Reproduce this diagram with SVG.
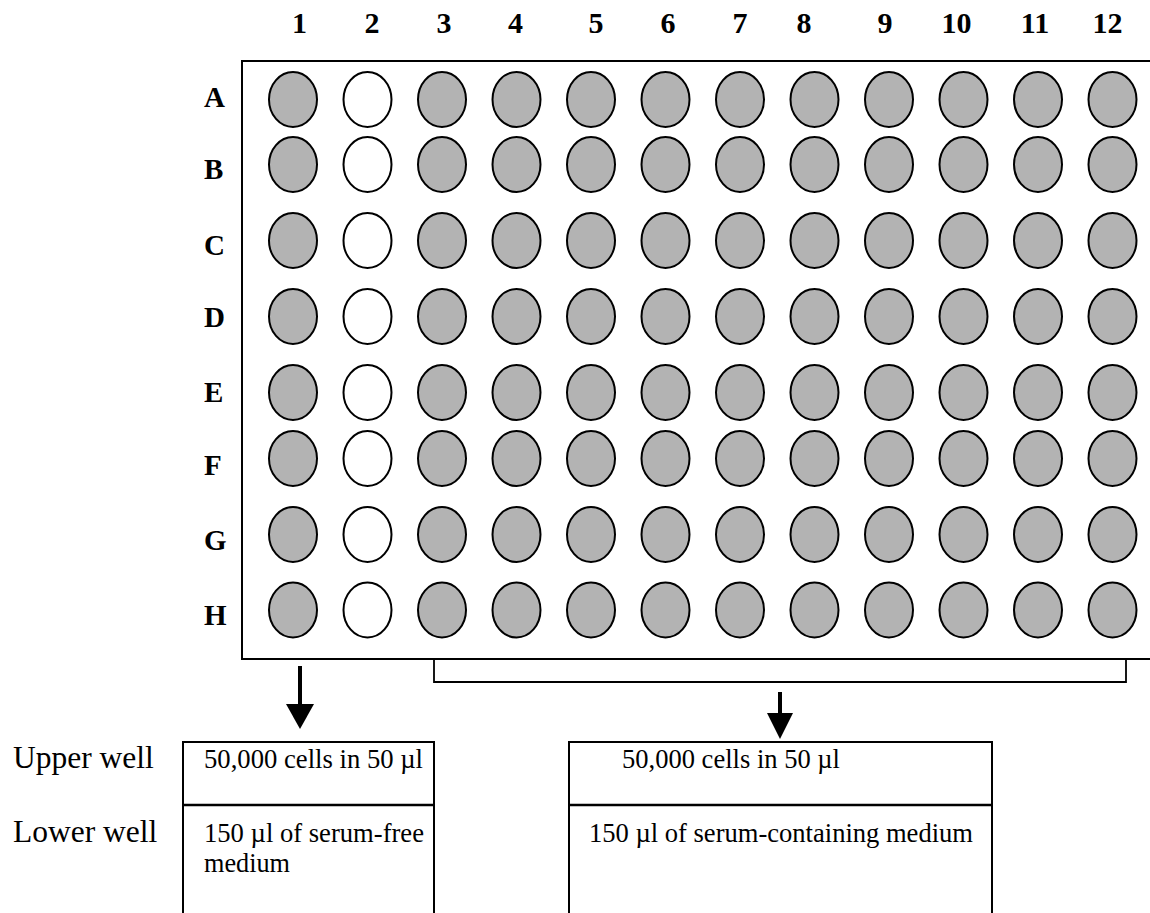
<svg xmlns="http://www.w3.org/2000/svg" width="1150" height="913" viewBox="0 0 1150 913">
<defs>
<style>
.num{font-family:"Liberation Serif","Times New Roman",serif;font-weight:bold;font-size:30px;fill:#000;text-anchor:middle}
.row{font-family:"Liberation Serif","Times New Roman",serif;font-weight:bold;font-size:29px;fill:#000}
.lbl{font-family:"Liberation Serif","Times New Roman",serif;font-size:31.5px;fill:#000}
.txt{font-family:"Liberation Serif","Times New Roman",serif;font-size:27px;fill:#000}
.w{fill:#b3b3b3;stroke:#000;stroke-width:2}
.e{fill:#fff;stroke:#000;stroke-width:2}
.ln{fill:none;stroke:#000;stroke-width:2}
</style>
<ellipse id="g" class="w" cx="0" cy="0" rx="24" ry="27.5"/>
<ellipse id="o" class="e" cx="0" cy="0" rx="24" ry="27.5"/>
</defs>
<rect width="1150" height="913" fill="#fff"/>
<g id="plate">
<rect x="242" y="61" width="920" height="598" class="ln"/>
</g>
<g id="column-labels">
<text class="num" x="299.5" y="33">1</text>
<text class="num" x="372" y="33">2</text>
<text class="num" x="444" y="33">3</text>
<text class="num" x="515.5" y="33">4</text>
<text class="num" x="596" y="33">5</text>
<text class="num" x="668" y="33">6</text>
<text class="num" x="740" y="33">7</text>
<text class="num" x="804" y="33">8</text>
<text class="num" x="885" y="33">9</text>
<text class="num" x="956.5" y="33">10</text>
<text class="num" x="1035" y="33">11</text>
<text class="num" x="1107.5" y="33">12</text>
</g>
<g id="row-labels">
<text class="row" x="204" y="107">A</text>
<text class="row" x="204" y="179">B</text>
<text class="row" x="204" y="255">C</text>
<text class="row" x="204" y="327">D</text>
<text class="row" x="204" y="402">E</text>
<text class="row" x="204" y="475">F</text>
<text class="row" x="204" y="550">G</text>
<text class="row" x="204" y="625">H</text>
</g>
<g id="wells">
<g id="rowA" transform="translate(0,99.5)">
<use href="#g" x="293"/><use href="#o" x="367.5"/><use href="#g" x="442"/><use href="#g" x="516.5"/><use href="#g" x="591"/><use href="#g" x="665.5"/><use href="#g" x="740"/><use href="#g" x="814.5"/><use href="#g" x="889"/><use href="#g" x="963.5"/><use href="#g" x="1038"/><use href="#g" x="1112.5"/>
</g>
<g id="rowB" transform="translate(0,164.5)">
<use href="#g" x="293"/><use href="#o" x="367.5"/><use href="#g" x="442"/><use href="#g" x="516.5"/><use href="#g" x="591"/><use href="#g" x="665.5"/><use href="#g" x="740"/><use href="#g" x="814.5"/><use href="#g" x="889"/><use href="#g" x="963.5"/><use href="#g" x="1038"/><use href="#g" x="1112.5"/>
</g>
<g id="rowC" transform="translate(0,240.5)">
<use href="#g" x="293"/><use href="#o" x="367.5"/><use href="#g" x="442"/><use href="#g" x="516.5"/><use href="#g" x="591"/><use href="#g" x="665.5"/><use href="#g" x="740"/><use href="#g" x="814.5"/><use href="#g" x="889"/><use href="#g" x="963.5"/><use href="#g" x="1038"/><use href="#g" x="1112.5"/>
</g>
<g id="rowD" transform="translate(0,316.5)">
<use href="#g" x="293"/><use href="#o" x="367.5"/><use href="#g" x="442"/><use href="#g" x="516.5"/><use href="#g" x="591"/><use href="#g" x="665.5"/><use href="#g" x="740"/><use href="#g" x="814.5"/><use href="#g" x="889"/><use href="#g" x="963.5"/><use href="#g" x="1038"/><use href="#g" x="1112.5"/>
</g>
<g id="rowE" transform="translate(0,392.5)">
<use href="#g" x="293"/><use href="#o" x="367.5"/><use href="#g" x="442"/><use href="#g" x="516.5"/><use href="#g" x="591"/><use href="#g" x="665.5"/><use href="#g" x="740"/><use href="#g" x="814.5"/><use href="#g" x="889"/><use href="#g" x="963.5"/><use href="#g" x="1038"/><use href="#g" x="1112.5"/>
</g>
<g id="rowF" transform="translate(0,458.5)">
<use href="#g" x="293"/><use href="#o" x="367.5"/><use href="#g" x="442"/><use href="#g" x="516.5"/><use href="#g" x="591"/><use href="#g" x="665.5"/><use href="#g" x="740"/><use href="#g" x="814.5"/><use href="#g" x="889"/><use href="#g" x="963.5"/><use href="#g" x="1038"/><use href="#g" x="1112.5"/>
</g>
<g id="rowG" transform="translate(0,534.5)">
<use href="#g" x="293"/><use href="#o" x="367.5"/><use href="#g" x="442"/><use href="#g" x="516.5"/><use href="#g" x="591"/><use href="#g" x="665.5"/><use href="#g" x="740"/><use href="#g" x="814.5"/><use href="#g" x="889"/><use href="#g" x="963.5"/><use href="#g" x="1038"/><use href="#g" x="1112.5"/>
</g>
<g id="rowH" transform="translate(0,610)">
<use href="#g" x="293"/><use href="#o" x="367.5"/><use href="#g" x="442"/><use href="#g" x="516.5"/><use href="#g" x="591"/><use href="#g" x="665.5"/><use href="#g" x="740"/><use href="#g" x="814.5"/><use href="#g" x="889"/><use href="#g" x="963.5"/><use href="#g" x="1038"/><use href="#g" x="1112.5"/>
</g>
</g>
<g id="connectors">
<path d="M434,659 V682 H1126 V659" fill="none" stroke="#000" stroke-width="1.8"/>
<line x1="300" y1="666" x2="300" y2="705" stroke="#000" stroke-width="4"/>
<polygon points="286,704 314,704 300,729" fill="#000"/>
<line x1="780" y1="692" x2="780" y2="714" stroke="#000" stroke-width="4"/>
<polygon points="767,713 793,713 780,739" fill="#000"/>
</g>
<g id="side-labels">
<text class="lbl" x="13" y="768">Upper well</text>
<text class="lbl" x="13" y="842">Lower well</text>
</g>
<g id="box-serum-free">
<path d="M183,913 V742 H434 V913" class="ln"/>
<line x1="183" y1="805" x2="434" y2="805" stroke="#000" stroke-width="2.6"/>
<text class="txt" x="204" y="768" textLength="219" lengthAdjust="spacingAndGlyphs">50,000 cells in 50 µl</text>
<text class="txt" x="204" y="842" textLength="220" lengthAdjust="spacingAndGlyphs">150 µl of serum-free</text>
<text class="txt" x="204" y="872" textLength="86" lengthAdjust="spacingAndGlyphs">medium</text>
</g>
<g id="box-serum-containing">
<path d="M569,913 V742 H992 V913" class="ln"/>
<line x1="569" y1="805" x2="992" y2="805" stroke="#000" stroke-width="2.6"/>
<text class="txt" x="622" y="768" textLength="218" lengthAdjust="spacingAndGlyphs">50,000 cells in 50 µl</text>
<text class="txt" x="589" y="842" textLength="384" lengthAdjust="spacingAndGlyphs">150 µl of serum-containing medium</text>
</g>
</svg>
